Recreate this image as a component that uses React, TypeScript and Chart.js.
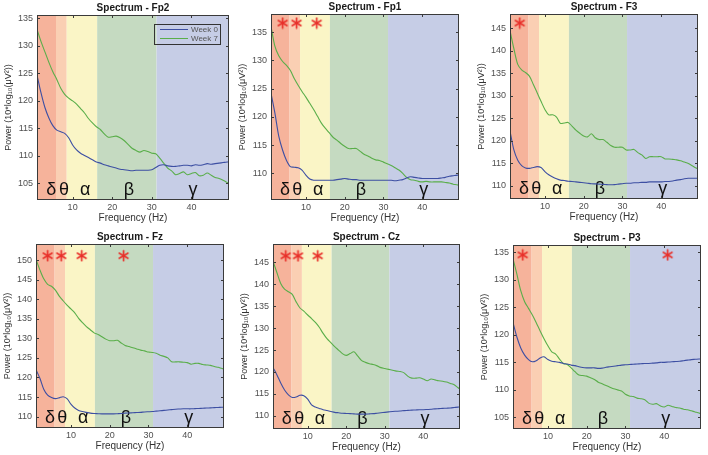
import React, { useEffect, useRef } from "react";
import { Chart, registerables } from "chart.js";

Chart.register(...registerables);

// ---------- data ----------
const freqs = [
  1, 2, 3, 4, 5, 6, 7, 8, 9, 10,
  11, 12, 13, 14, 15, 16, 17, 18, 19, 20,
  21, 22, 23, 24, 25, 26, 27, 28, 29, 30,
  31, 32, 33, 34, 35, 36, 37, 38, 39, 40,
  41, 42, 43, 44, 45, 46, 47, 48, 49, 49.5,
];

const fp2Week0 = [
  124.7, 121.5, 118.8, 116.9, 115.5, 114.7, 114.4, 114.1, 113.3, 112,
  111.1, 110.5, 110.1, 109.7, 109.3, 108.9, 108.7, 108.4, 108.2, 108,
  107.8, 107.6, 107.5, 107.4, 107.3, 107.4, 107.4, 107.4, 107.4, 107.5,
  107.9, 108.3, 108.4, 108.2, 108.1, 108.1, 108.2, 108.3, 108.3, 108.2,
  108.4, 108.3, 108.4, 108.6, 108.5, 108.6, 108.7, 108.8, 108.9, 108.9,
];
const fp2Week7 = [
  133, 130.8, 128.9, 127, 125.3, 123.9, 122.3, 121.2, 120.5, 120,
  119.4, 118.6, 117.8, 116.8, 116, 115.3, 114.8, 114, 113.4, 113.5,
  113.6, 113.3, 112.8, 112.1, 111.4, 111, 110.7, 111, 110.8, 110.5,
  110.4, 109.6, 108.7, 107.8, 107.3, 106.6, 106.8, 107.1, 106.6, 106.8,
  107, 106.4, 106.5, 106.9, 106.5, 106.1, 105.9, 105.6, 105.2, 105,
];
const fp1Week0 = [
  124.2, 120.7, 116.6, 114.1, 112.3, 111.2, 111.1, 111, 110.6, 109.7,
  109, 108.8, 108.8, 108.8, 108.8, 108.8, 108.8, 108.9, 109, 109.1,
  109, 108.9, 108.9, 108.8, 108.8, 108.8, 108.8, 108.8, 108.8, 108.8,
  108.8, 108.8, 108.7, 108.8, 108.9, 109.2, 109.4, 109.3, 109.2, 109.1,
  109.1, 109.1, 109.1, 109.1, 109.2, 109.3, 109.5, 109.6, 109.7, 109.7,
];
const fp1Week7 = [
  136, 132.5, 130.8, 129.8, 129.1, 128.2, 126.8, 125.6, 124.5, 123.5,
  122.4, 121.3, 120.1, 118.9, 118, 117.2, 116.4, 115.9, 115.3, 114.8,
  114.4, 114.4, 114.4, 113.9, 113.4, 113.1, 112.7, 112.4, 112.3, 112,
  111.7, 111.4, 111, 110.6, 110, 109.3, 108.9, 108.8, 108.6, 108.5,
  108.6, 108.5, 108.5, 108.5, 108.5, 108.4, 108.3, 108.1, 108, 107.9,
];
const f3Week0 = [
  122.2, 118, 115.7, 114.5, 114, 113.9, 114.1, 114.3, 114.1, 113.2,
  112.5, 112, 111.6, 111.3, 111.2, 111.05, 111, 110.9, 110.8, 110.7,
  110.6, 110.5, 110.45, 110.4, 110.35, 110.3, 110.25, 110.3, 110.4, 110.5,
  110.6, 110.6, 110.7, 110.7, 110.8, 110.8, 110.9, 110.9, 110.9, 110.9,
  111, 111, 111.1, 111.3, 111.4, 111.6, 111.7, 111.7, 111.7, 111.7,
];
const f3Week7 = [
  144.5, 140.5, 137, 135.8, 135.2, 134.4, 132.6, 130.7, 128.8, 127,
  125.8, 125.8, 125.3, 123.9, 124, 124.1, 123.3, 122.4, 121.7, 121.1,
  120.9, 121.6, 120.7, 120.3, 120.3, 119.7, 119, 118.6, 118.6, 118.6,
  118, 118, 118.1, 117.4, 116.9, 116.1, 116.5, 116.5, 116.5, 116.5,
  116, 116, 115.9, 115.8, 115.6, 115.3, 115, 114.5, 114, 113.8,
];
const fzWeek0 = [
  122, 119.8, 117, 115.5, 114.9, 114.6, 114.8, 115.1, 114.6, 113.2,
  112.2, 111.6, 111.3, 111.1, 110.9, 110.8, 110.75, 110.7, 110.7, 110.7,
  110.7, 110.75, 110.8, 110.9, 110.95, 111, 111.05, 111.1, 111.2, 111.25,
  111.3, 111.4, 111.5, 111.6, 111.7, 111.8, 111.9, 111.95, 112, 112,
  112, 112.05, 112.1, 112.15, 112.2, 112.25, 112.3, 112.35, 112.4, 112.4,
];
const fzWeek7 = [
  150.2, 147.5, 145.2, 143.8, 143.3, 142.3, 140.8, 139.6, 138.5, 137.5,
  136.5, 135.1, 134, 133, 132.2, 131.4, 131, 130.4, 129.8, 129.4,
  129.4, 129.5, 128.8, 128.2, 127.9, 127.6, 127.3, 127, 126.8, 126.5,
  126.4, 126.2, 125.7, 125.4, 125, 124, 124, 124, 123.9, 123.8,
  123.4, 123.6, 123.6, 123.3, 123.2, 123.1, 122.8, 122.6, 122.3, 122.2,
];
const czWeek0 = [
  121, 119.4, 117.5, 115.9, 114.8, 114.2, 114.3, 114.7, 114.6, 113.8,
  112.5, 112, 111.7, 111.4, 111.2, 111, 110.8, 110.7, 110.6, 110.55,
  110.5, 110.45, 110.4, 110.4, 110.4, 110.45, 110.5, 110.6, 110.7, 110.8,
  110.9, 111, 111.05, 111.1, 111.2, 111.25, 111.3, 111.35, 111.4, 111.4,
  111.45, 111.5, 111.6, 111.65, 111.7, 111.75, 111.8, 111.9, 112, 112,
];
const czWeek7 = [
  145.3, 142.7, 140.2, 138.9, 138.3, 137.7, 136, 134.6, 133.9, 133,
  132.2, 131.3, 130.2, 128.8, 127.6, 126.7, 125.8, 125, 124.2, 123.8,
  124.2, 124.6, 123.6, 122.6, 122.2, 121.9, 121.7, 121.4, 121, 120.8,
  120.6, 120.4, 120.2, 120.1, 119.8, 119, 118.6, 118.6, 118.7, 118.4,
  118, 118.4, 118.2, 118, 117.9, 117.7, 117.4, 117.1, 116.4, 116.1,
];
const p3Week0 = [
  122.2, 119.6, 117.6, 116.3, 115.5, 115.1, 115.3, 115.8, 116, 115.5,
  115.2, 115.1, 115, 114.8, 114.7, 114.5, 114.4, 114.2, 114.05, 114,
  114, 114, 113.9, 113.95, 114.1, 114.2, 114.3, 114.4, 114.5, 114.55,
  114.6, 114.65, 114.7, 114.75, 114.8, 114.8, 114.85, 114.9, 115, 115,
  115.05, 115.1, 115.15, 115.2, 115.3, 115.4, 115.5, 115.55, 115.6, 115.6,
];
const p3Week7 = [
  133.8, 131, 128, 126, 124.8, 123.6, 122.2, 120.7, 119.3, 118,
  116.9, 116.5, 115.6, 114.8, 114.6, 114, 113.3, 112.7, 112.6, 112.5,
  112.2, 111.9, 111.4, 111.1, 110.8, 110.5, 110.2, 110, 109.8, 109.2,
  108.9, 108.8, 108.5, 108.4, 108.2, 107.6, 107.4, 107.5, 107.1, 106.9,
  107.2, 107, 106.8, 106.7, 106.5, 106.4, 106.2, 106, 105.8, 105.6,
];

// significance markers (frequency of each asterisk)
const fp2Stars: number[] = [];
const fp1Stars = [4, 7.6, 12.8];
const f3Stars = [3.5];
const fzStars = [4, 7.5, 12.8, 23.6];
const czStars = [4.3, 7.5, 12.6];
const p3Stars = [3.5, 40.9];

const xTicks = [10, 20, 30, 40];
const bandEdges = [1, 5.8, 8.5, 16.2, 31.2, 49.5];
const bandLabels = ["δ", "θ", "α", "β", "γ"];
const bandLabelFreqs = [4.6, 7.8, 13.2, 24.2, 40.4];
const bandColors = ["#F6B39B", "#FACFB3", "#FAF5C6", "#C5DAC1", "#C6CDE6"];

const seriesNames = ["Week 0", "Week 7"];
const seriesColors = ["#3D4FA3", "#5AAE4A"];

const FONT = "'Liberation Sans', Arial, Helvetica, sans-serif";

type PanelCfg = {
  title: string;
  left: number;
  top: number;
  w: number;
  h: number;
  yMin: number;
  yMax: number;
  yTicks: number[];
  week0: number[];
  week7: number[];
  stars: number[];
  starY: number;
  legend: boolean;
};

const panels: PanelCfg[] = [
  { title: "Spectrum - Fp2", left: 37, top: 15, w: 192, h: 185, yMin: 102, yMax: 135.6, yTicks: [105, 110, 115, 120, 125, 130, 135], week0: fp2Week0, week7: fp2Week7, stars: fp2Stars, starY: 134, legend: true },
  { title: "Spectrum - Fp1", left: 271, top: 14, w: 193, h: 186, yMin: 105.3, yMax: 138.2, yTicks: [110, 115, 120, 125, 130, 135], week0: fp1Week0, week7: fp1Week7, stars: fp1Stars, starY: 136.6, legend: false },
  { title: "Spectrum - F3", left: 510, top: 14, w: 193, h: 185, yMin: 107.1, yMax: 148.2, yTicks: [110, 115, 120, 125, 130, 135, 140, 145], week0: f3Week0, week7: f3Week7, stars: f3Stars, starY: 146.2, legend: false },
  { title: "Spectrum - Fz", left: 36, top: 244, w: 193, h: 184, yMin: 107.1, yMax: 154.1, yTicks: [110, 115, 120, 125, 130, 135, 140, 145, 150], week0: fzWeek0, week7: fzWeek7, stars: fzStars, starY: 151.1, legend: false },
  { title: "Spectrum - Cz", left: 273, top: 244, w: 192, h: 185, yMin: 107, yMax: 149.2, yTicks: [110, 115, 120, 125, 130, 135, 140, 145], week0: czWeek0, week7: czWeek7, stars: czStars, starY: 146.5, legend: false },
  { title: "Spectrum - P3", left: 513, top: 245, w: 193, h: 184, yMin: 102.9, yMax: 136.3, yTicks: [105, 110, 115, 120, 125, 130, 135], week0: p3Week0, week7: p3Week7, stars: p3Stars, starY: 134.5, legend: false },
];

function makeStar(): HTMLCanvasElement {
  const c = document.createElement("canvas");
  c.width = 13;
  c.height = 13;
  const ctx = c.getContext("2d")!;
  ctx.strokeStyle = "#E8302A";
  ctx.lineWidth = 1.7;
  ctx.lineCap = "round";
  const r = 5;
  for (let k = 0; k < 3; k++) {
    const a = Math.PI / 2 + (k * Math.PI) / 3;
    ctx.beginPath();
    ctx.moveTo(6.5 + r * Math.cos(a), 6.5 + r * Math.sin(a));
    ctx.lineTo(6.5 - r * Math.cos(a), 6.5 - r * Math.sin(a));
    ctx.stroke();
  }
  return c;
}

const decorPlugin = {
  id: "decor",
  beforeDatasetsDraw(chart: any) {
    const { ctx, chartArea: a, scales } = chart;
    const x = scales.x;
    ctx.save();
    for (let i = 0; i < bandColors.length; i++) {
      const x0 = x.getPixelForValue(bandEdges[i]);
      const x1 = x.getPixelForValue(bandEdges[i + 1]);
      ctx.fillStyle = bandColors[i];
      ctx.fillRect(x0, a.top, x1 - x0, a.bottom - a.top);
    }
    ctx.fillStyle = "#111";
    ctx.font = `18px ${FONT}`;
    ctx.textAlign = "center";
    ctx.textBaseline = "middle";
    for (let i = 0; i < bandLabels.length; i++) {
      ctx.fillText(bandLabels[i], x.getPixelForValue(bandLabelFreqs[i]), a.bottom - 10);
    }
    ctx.restore();
  },
  afterDraw(chart: any, _args: any, opts: any) {
    const { ctx, chartArea: a, scales } = chart;
    const x = scales.x;
    const y = scales.y;
    ctx.save();
    ctx.strokeStyle = "#3a3a3a";
    ctx.lineWidth = 1;
    ctx.strokeRect(Math.round(a.left) + 0.5, Math.round(a.top) + 0.5, Math.round(a.right - a.left) - 1, Math.round(a.bottom - a.top) - 1);
    ctx.beginPath();
    for (const t of xTicks) {
      const px = Math.round(x.getPixelForValue(t)) + 0.5;
      ctx.moveTo(px, a.bottom);
      ctx.lineTo(px, a.bottom - 3);
      ctx.moveTo(px, a.top);
      ctx.lineTo(px, a.top + 3);
    }
    for (const t of opts.yTicks) {
      const py = Math.round(y.getPixelForValue(t)) + 0.5;
      ctx.moveTo(a.left, py);
      ctx.lineTo(a.left + 3, py);
      ctx.moveTo(a.right, py);
      ctx.lineTo(a.right - 3, py);
    }
    ctx.stroke();
    ctx.fillStyle = "#1a1a1a";
    ctx.font = `bold 10px ${FONT}`;
    ctx.textAlign = "center";
    ctx.textBaseline = "middle";
    ctx.fillText(opts.title, (a.left + a.right) / 2, a.top - 7);
    if (opts.legend) {
      const bx = a.right - 75;
      const by = a.top + 9;
      const bw = 66;
      const bh = 20;
      ctx.strokeStyle = "#333";
      ctx.strokeRect(bx + 0.5, by + 0.5, bw, bh);
      ctx.font = `8px ${FONT}`;
      ctx.textAlign = "left";
      for (let i = 0; i < seriesNames.length; i++) {
        const ly = by + 5.5 + i * 9;
        ctx.strokeStyle = seriesColors[i];
        ctx.lineWidth = 1;
        ctx.beginPath();
        ctx.moveTo(bx + 6, ly);
        ctx.lineTo(bx + 34, ly);
        ctx.stroke();
        ctx.fillStyle = "#555";
        ctx.fillText(seriesNames[i], bx + 37, ly + 0.5);
      }
    }
    ctx.restore();
  },
};

function Panel({ cfg }: { cfg: PanelCfg }) {
  const ref = useRef<HTMLCanvasElement>(null);
  const cw = cfg.w + 38;
  const ch = cfg.h + 42;
  useEffect(() => {
    const star = makeStar();
    const chart = new Chart(ref.current!, {
      type: "line",
      data: {
        datasets: [
          {
            label: seriesNames[0],
            data: freqs.map((f, i) => ({ x: f, y: cfg.week0[i] })),
            borderColor: seriesColors[0],
            borderWidth: 1.1,
            pointRadius: 0,
            tension: 0.3,
          },
          {
            label: seriesNames[1],
            data: freqs.map((f, i) => ({ x: f, y: cfg.week7[i] })),
            borderColor: seriesColors[1],
            borderWidth: 1.1,
            pointRadius: 0,
            tension: 0.3,
          },
          {
            label: "significant",
            data: cfg.stars.map((f) => ({ x: f, y: cfg.starY })),
            showLine: false,
            pointStyle: star as any,
            pointRadius: 6,
            borderColor: "#E8302A",
            backgroundColor: "#E8302A",
          },
        ],
      },
      options: {
        responsive: false,
        animation: false,
        events: [],
        layout: { padding: { top: 15, right: 2, left: 0, bottom: 0 } },
        plugins: {
          legend: { display: false },
          tooltip: { enabled: false },
          decor: { title: cfg.title, legend: cfg.legend, yTicks: cfg.yTicks },
        } as any,
        scales: {
          x: {
            type: "linear",
            min: 1,
            max: 49.5,
            grid: { display: false, drawTicks: false },
            border: { display: false },
            afterBuildTicks: (s: any) => {
              s.ticks = xTicks.map((v) => ({ value: v }));
            },
            afterFit: (s: any) => {
              s.height = 27;
            },
            ticks: { color: "#505050", font: { family: FONT, size: 9 }, padding: 2, maxRotation: 0 },
            title: {
              display: true,
              text: "Frequency (Hz)",
              color: "#333",
              font: { family: FONT, size: 10 },
              padding: { top: 0, bottom: 3 },
            },
          },
          y: {
            type: "linear",
            min: cfg.yMin,
            max: cfg.yMax,
            grid: { display: false, drawTicks: false },
            border: { display: false },
            afterBuildTicks: (s: any) => {
              s.ticks = cfg.yTicks.map((v) => ({ value: v }));
            },
            afterFit: (s: any) => {
              s.width = 36;
            },
            ticks: { color: "#505050", font: { family: FONT, size: 9 }, padding: 4 },
            title: {
              display: true,
              text: "Power (10*log₁₀(μV²))",
              color: "#333",
              font: { family: FONT, size: 9 },
              padding: { top: 2, bottom: 0 },
            },
          },
        },
      },
      plugins: [decorPlugin],
    } as any);
    return () => chart.destroy();
  }, []);
  return (
    <div style={{ position: "absolute", left: cfg.left - 36, top: cfg.top - 15, width: cw, height: ch }}>
      <canvas ref={ref} width={cw} height={ch} style={{ display: "block" }} />
    </div>
  );
}

export default function App() {
  return (
    <div
      style={{
        position: "fixed",
        left: 0,
        top: 0,
        width: 708,
        height: 455,
        overflow: "hidden",
        background: "#fff",
      }}
    >
      {panels.map((p) => (
        <Panel key={p.title} cfg={p} />
      ))}
    </div>
  );
}
